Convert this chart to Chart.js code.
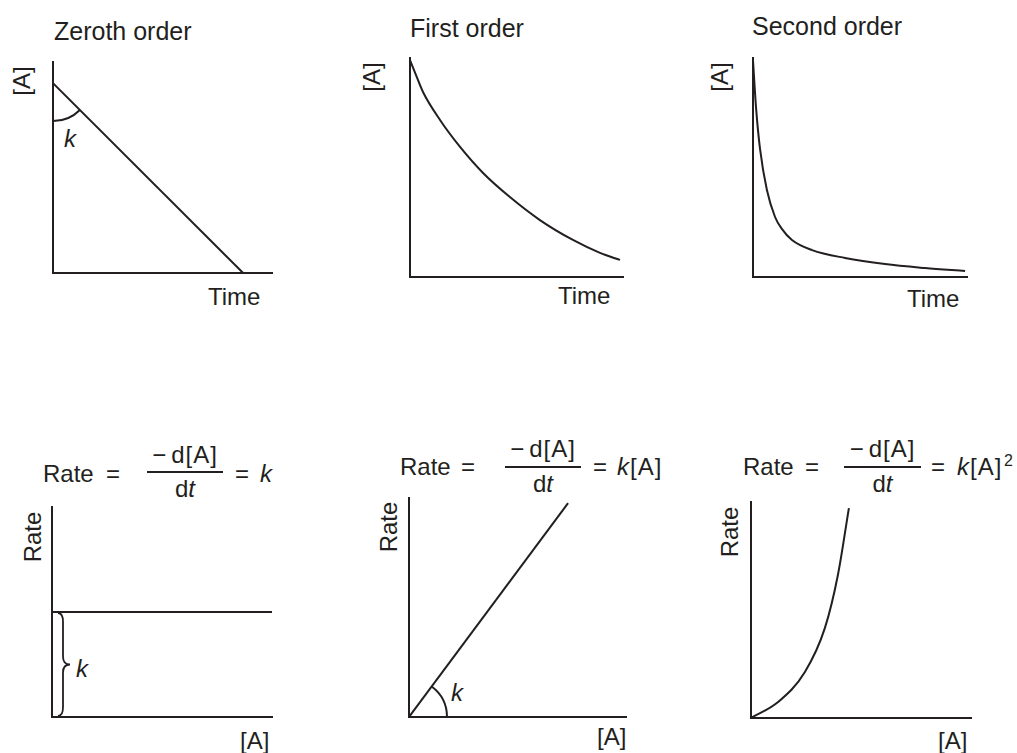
<!DOCTYPE html>
<html>
<head>
<meta charset="utf-8">
<script src="https://cdn.jsdelivr.net/npm/chart.js@4"></script>
<style>
  body { margin: 0; background: #fff; width: 1017px; height: 753px; position: relative; overflow: hidden;
         font-family: "Liberation Sans", Arial, sans-serif; color: #231f20; }
  .t { position: absolute; font-size: 24px; line-height: 24px; white-space: nowrap; }
  .c { text-align: center; }
  .v { transform: translate(-50%, -50%) rotate(-90deg); }
  .num { letter-spacing: 1px; }
  .num span { margin-right: 4px; }
  .ka { letter-spacing: 1px; }
  .bar { position: absolute; height: 2px; background: #231f20; }
  .sup { position: absolute; font-size: 16px; line-height: 16px; }
</style>
</head>
<body>
<!-- top row: concentration vs time -->
<div class="t" style="left:54px;top:19px;font-size:25px">Zeroth order</div>
<div class="t" style="left:410px;top:16px;font-size:25px">First order</div>
<div class="t" style="left:752px;top:14px;font-size:25px">Second order</div>
<div class="t v" style="left:22px;top:81px">[A]</div>
<div class="t v" style="left:372px;top:77px">[A]</div>
<div class="t v" style="left:720px;top:77px">[A]</div>
<div class="t" style="left:208px;top:285px">Time</div>
<div class="t" style="left:558px;top:284px">Time</div>
<div class="t" style="left:907px;top:287px">Time</div>
<div class="t" style="left:64px;top:127px"><i>k</i></div>

<!-- bottom row: rate vs [A] -->
<div class="t" style="left:43px;top:462px">Rate</div>
<div class="t" style="left:106px;top:462px">=</div>
<div class="t c num" style="left:147px;top:443px;width:76px"><span>−</span>d[A]</div>
<div class="bar" style="left:147px;top:471px;width:76px"></div>
<div class="t c" style="left:147px;top:477px;width:76px">d<i>t</i></div>
<div class="t" style="left:235px;top:462px">=</div>
<div class="t" style="left:260px;top:462px"><i>k</i></div>

<div class="t" style="left:400px;top:455px">Rate</div>
<div class="t" style="left:461px;top:455px">=</div>
<div class="t c num" style="left:505px;top:437px;width:76px"><span>−</span>d[A]</div>
<div class="bar" style="left:505px;top:466px;width:76px"></div>
<div class="t c" style="left:505px;top:472px;width:76px">d<i>t</i></div>
<div class="t" style="left:593px;top:455px">=</div>
<div class="t ka" style="left:617px;top:455px"><i>k</i>[A]</div>

<div class="t" style="left:743px;top:455px">Rate</div>
<div class="t" style="left:805px;top:455px">=</div>
<div class="t c num" style="left:844px;top:437px;width:77px"><span>−</span>d[A]</div>
<div class="bar" style="left:844px;top:466px;width:77px"></div>
<div class="t c" style="left:844px;top:472px;width:77px">d<i>t</i></div>
<div class="t" style="left:931px;top:455px">=</div>
<div class="t ka" style="left:957px;top:455px"><i>k</i>[A]</div>
<div class="sup" style="left:1004px;top:453px">2</div>

<div class="t v" style="left:33px;top:537px">Rate</div>
<div class="t v" style="left:389px;top:527px">Rate</div>
<div class="t v" style="left:730px;top:532px">Rate</div>
<div class="t" style="left:240px;top:729px">[A]</div>
<div class="t" style="left:597px;top:725px">[A]</div>
<div class="t" style="left:938px;top:729px">[A]</div>
<div class="t" style="left:76px;top:657px"><i>k</i></div>
<div class="t" style="left:451px;top:681px"><i>k</i></div>

<script>
'use strict';
// values, both axes on a 0..10 scale
const zeroTime = [0, 8.68];
const zeroConc = [9.0, 0];
const firstTime = [0, 0.25, 0.61, 1.41, 2.35, 3.43, 4.69, 6.10, 7.65, 8.92, 9.86];
const firstConc = [9.9, 9.3, 8.45, 7.17, 5.94, 4.75, 3.65, 2.60, 1.69, 1.10, 0.78];
const secondTime = [0, 0.14, 0.33, 0.65, 1.03, 1.34, 1.82, 2.76, 4.30, 6.17, 8.04, 9.91];
const secondConc = [9.9, 7.76, 5.84, 3.97, 2.74, 2.21, 1.69, 1.23, 0.87, 0.59, 0.41, 0.27];

const zeroA = [0, 10];
const zeroRate = [5, 5];
const firstA = [0, 7.33];
const firstRate = [0, 9.77];
const secondA = [0, 1.23, 2.45, 3.36, 3.95, 4.45];
const secondRate = [0, 0.74, 2.13, 4.17, 6.62, 9.72];

const ink = '#231f20';
const PAD = 10;
Chart.defaults.animation = false;

// draws the little angle arcs and the brace marking k
const markPlugin = {
  id: 'marks',
  afterDatasetsDraw(chart, args, opts) {
    const ctx = chart.ctx;
    const xs = chart.scales.x, ys = chart.scales.y;
    ctx.save();
    ctx.strokeStyle = ink;
    ctx.lineWidth = 2;
    if (opts.arc) {
      const a = opts.arc;
      const px = xs.getPixelForValue(a.at[0]), py = ys.getPixelForValue(a.at[1]);
      const ang = Math.atan2(ys.getPixelForValue(a.toward[1]) - py, xs.getPixelForValue(a.toward[0]) - px);
      ctx.beginPath();
      ctx.arc(px, py, a.r, Math.min(ang, a.axisAngle), Math.max(ang, a.axisAngle));
      ctx.stroke();
    }
    if (opts.brace) {
      const left = chart.chartArea.left;
      const x0 = left + 6, xm = left + 11, xt = left + 18;
      const yt = ys.getPixelForValue(opts.brace[0]) + 1;
      const yb = ys.getPixelForValue(opts.brace[1]) - 1;
      const ym = (yt + yb) / 2;
      ctx.lineWidth = 1.8;
      ctx.beginPath();
      ctx.moveTo(x0, yt);
      ctx.quadraticCurveTo(xm, yt, xm, yt + 9);
      ctx.lineTo(xm, ym - 8);
      ctx.quadraticCurveTo(xm, ym, xt, ym);
      ctx.quadraticCurveTo(xm, ym, xm, ym + 8);
      ctx.lineTo(xm, yb - 9);
      ctx.quadraticCurveTo(xm, yb, x0, yb);
      ctx.stroke();
    }
    ctx.restore();
  }
};

function axis() {
  return {
    type: 'linear', min: 0, max: 10,
    grid: { display: false, drawTicks: false },
    ticks: { display: false },
    border: { display: true, color: ink, width: 2 }
  };
}

function makePanel(box, xVals, yVals, smooth, marks) {
  const [l, t, r, b] = box;
  const canvas = document.createElement('canvas');
  canvas.width = r - l + 2 * PAD;
  canvas.height = b - t + 2 * PAD;
  canvas.style.position = 'absolute';
  canvas.style.left = (l - PAD) + 'px';
  canvas.style.top = (t - PAD) + 'px';
  document.body.appendChild(canvas);
  return new Chart(canvas, {
    type: 'line',
    data: {
      datasets: [{
        data: xVals.map((x, i) => ({ x: x, y: yVals[i] })),
        borderColor: ink,
        borderWidth: 2,
        pointRadius: 0,
        cubicInterpolationMode: smooth ? 'monotone' : 'default',
        fill: false
      }]
    },
    options: {
      responsive: false,
      layout: { padding: PAD },
      scales: { x: axis(), y: axis() },
      plugins: { legend: { display: false }, tooltip: { enabled: false }, marks: marks || {} }
    },
    plugins: [markPlugin]
  });
}

makePanel([53, 62, 272, 273], zeroTime, zeroConc, false,
  { arc: { at: [zeroTime[0], zeroConc[0]], toward: [zeroTime[1], zeroConc[1]], r: 38, axisAngle: Math.PI / 2 } });
makePanel([410, 58, 623, 277], firstTime, firstConc, true);
makePanel([753, 58, 967, 277], secondTime, secondConc, true);

makePanel([52, 507, 272, 717], zeroA, zeroRate, false, { brace: [zeroRate[0], 0] });
makePanel([409, 498, 626, 717], firstA, firstRate, false,
  { arc: { at: [firstA[0], firstRate[0]], toward: [firstA[1], firstRate[1]], r: 38, axisAngle: 0 } });
makePanel([751, 502, 971, 718], secondA, secondRate, true);
</script>
</body>
</html>
